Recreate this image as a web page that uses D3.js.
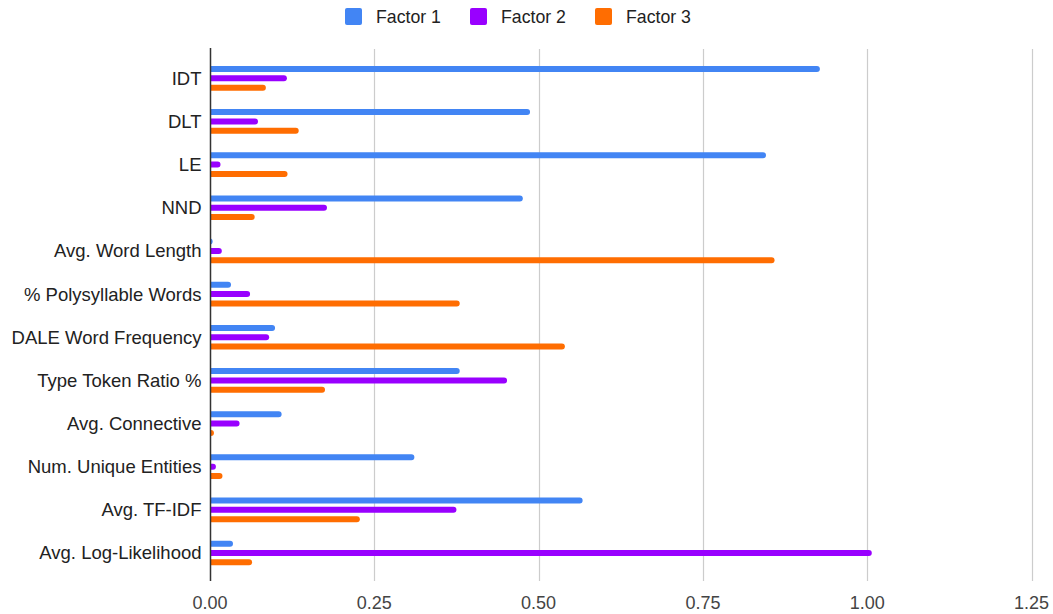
<!DOCTYPE html>
<html>
<head>
<meta charset="utf-8">
<script src="https://cdn.jsdelivr.net/npm/d3@7"></script>
<style>
  body { margin: 0; background: #fff; }
  svg { display: block; font-family: "Liberation Sans", Arial, sans-serif; }
</style>
</head>
<body>
<svg id="chart" width="1053" height="614"></svg>
<script>
const categories = ["IDT", "DLT", "LE", "NND", "Avg. Word Length", "% Polysyllable Words",
  "DALE Word Frequency", "Type Token Ratio %", "Avg. Connective", "Num. Unique Entities",
  "Avg. TF-IDF", "Avg. Log-Likelihood"];
const seriesNames = ["Factor 1", "Factor 2", "Factor 3"];
const factor1 = [0.928, 0.487, 0.846, 0.476, 0.004, 0.032, 0.099, 0.380, 0.109, 0.311, 0.567, 0.035];
const factor2 = [0.117, 0.073, 0.016, 0.178, 0.018, 0.061, 0.090, 0.452, 0.045, 0.009, 0.375, 1.007];
const factor3 = [0.085, 0.135, 0.118, 0.068, 0.859, 0.380, 0.540, 0.175, 0.006, 0.019, 0.228, 0.064];
const tickValues = [0, 0.25, 0.5, 0.75, 1.0, 1.25];
const colors = ["#4285F4", "#9900FF", "#FF6D01"];

const seriesValues = [factor1, factor2, factor3];
const rows = categories.map((c, i) => ({ cat: c, vals: seriesValues.map((s, k) => ({ key: seriesNames[k], value: s[i], k })) }));

const svg = d3.select("#chart");
const x = d3.scaleLinear().domain([0, 1.25]).range([210, 1031.5]);
const y0 = d3.scaleBand().domain(categories).range([56.7, 574.6]).paddingInner(0.35).paddingOuter(0.175);
const y1 = d3.scaleBand().domain(seriesNames).range([0, y0.bandwidth()]).paddingInner(0.358).paddingOuter(0.179);
const color = d3.scaleOrdinal().domain(seriesNames).range(colors);

// gridlines
svg.append("g").selectAll("line").data(tickValues.filter(d => d > 0)).join("line")
  .attr("x1", d => Math.round(x(d)) + 0.5).attr("x2", d => Math.round(x(d)) + 0.5)
  .attr("y1", 49).attr("y2", 581)
  .attr("stroke", "#cccccc").attr("stroke-width", 1.2);

// bars
const g = svg.append("g");
const groups = g.selectAll("g").data(rows).join("g")
  .attr("transform", d => `translate(0,${y0(d.cat)})`);
groups.selectAll("path").data(d => d.vals).join("path")
  .attr("fill", d => color(d.key))
  .attr("d", d => {
    const x0 = x(0), x1 = x(d.value), yy = y1(d.key), h = y1.bandwidth(), r = h / 2;
    const w = x1 - x0;
    const rr = Math.min(r, w);
    return `M${x0},${yy} H${x1 - rr} A${rr},${r} 0 0 1 ${x1},${yy + r} A${rr},${r} 0 0 1 ${x1 - rr},${yy + h} H${x0} Z`;
  });

// x axis tick labels
svg.append("g").selectAll("text").data(tickValues).join("text")
  .attr("x", d => x(d)).attr("y", 609)
  .attr("text-anchor", "middle")
  .attr("font-size", 18).attr("fill", "#444")
  .text(d => d3.format(".2f")(d));

// y axis line
svg.append("line").attr("x1", 210.5).attr("x2", 210.5).attr("y1", 48).attr("y2", 581)
  .attr("stroke", "#333").attr("stroke-width", 1.5);

// y labels
svg.append("g").selectAll("text").data(categories).join("text")
  .attr("x", 201.5).attr("y", d => y0(d) + y0.bandwidth() / 2)
  .attr("dy", "0.35em")
  .attr("text-anchor", "end")
  .attr("font-size", 18.5).attr("fill", "#222")
  .text(d => d);

// legend
const legendX = [345, 470, 595];
const lg = svg.append("g").selectAll("g").data(seriesNames).join("g")
  .attr("transform", (d, i) => `translate(${legendX[i]},8)`);
lg.append("rect").attr("width", 17).attr("height", 17).attr("rx", 2).attr("fill", d => color(d));
lg.append("text").attr("x", 31).attr("y", 8.5).attr("dy", "0.35em")
  .attr("font-size", 17.7).attr("fill", "#222").text(d => d);
</script>
</body>
</html>
